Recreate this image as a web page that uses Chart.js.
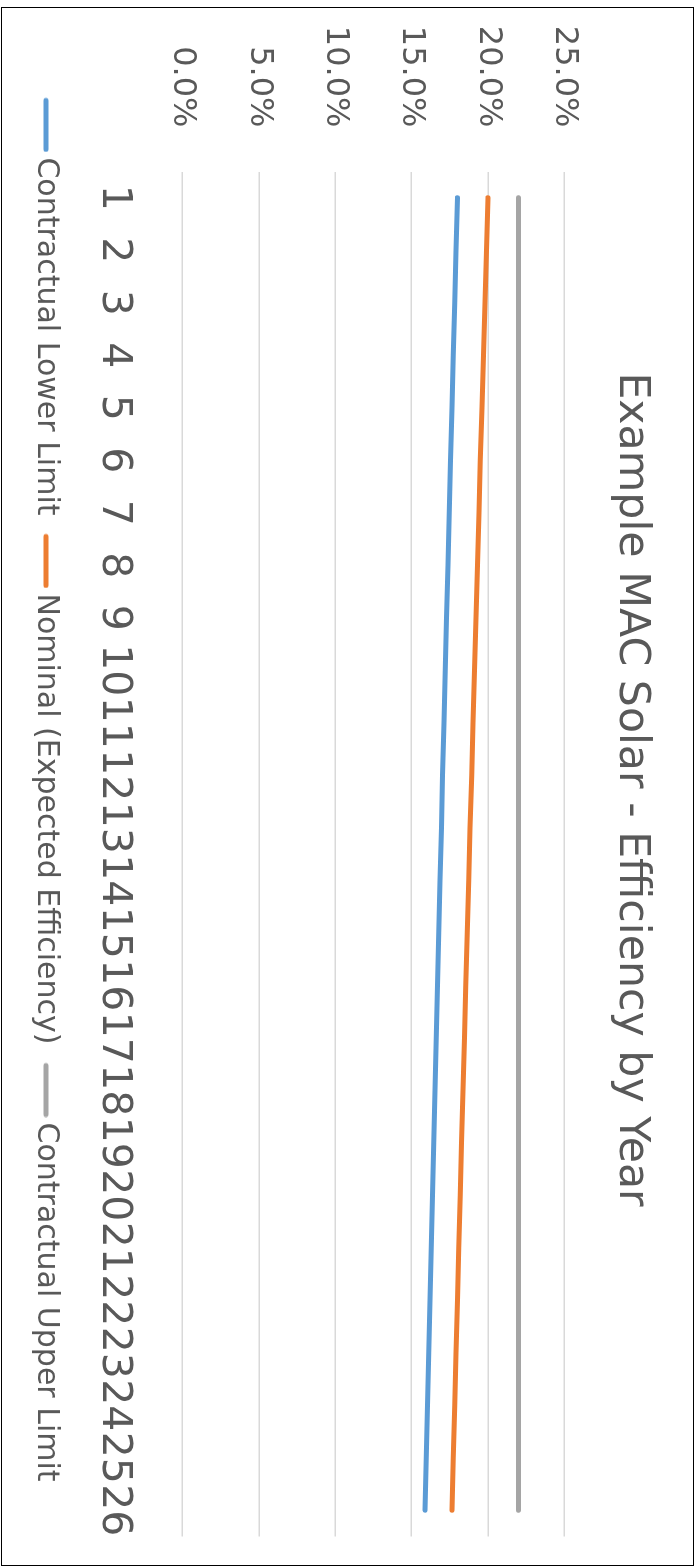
<!DOCTYPE html>
<html>
<head>
<meta charset="utf-8">
<script src="https://cdn.jsdelivr.net/npm/chart.js@4.4.1/dist/chart.umd.min.js"></script>
<style>
  html, body { margin: 0; padding: 0; background: #ffffff; overflow: hidden; }
  #frame {
    position: absolute; left: 0; top: 0;
    width: 1559px; height: 693px;
    box-sizing: border-box;
    border: 1.5px solid #000000;
    background: #ffffff;
    transform-origin: 0 0;
    transform: translate(694px, 7px) rotate(90deg);
  }
  #chart { display: block; }
</style>
</head>
<body>
<div id="frame"><canvas id="chart" width="1556" height="690"></canvas></div>
<script>
const chartTitle = 'Example MAC Solar - Efficiency by Year';
const years = ['1','2','3','4','5','6','7','8','9','10','11','12','13','14','15','16','17','18','19','20','21','22','23','24','25','26'];
const seriesNames = ['Contractual Lower Limit', 'Nominal (Expected Efficiency)', 'Contractual Upper Limit'];
const lowerLimit = [18.00, 17.91, 17.82, 17.73, 17.64, 17.55, 17.47, 17.38, 17.29, 17.21, 17.12, 17.03, 16.95, 16.86, 16.78, 16.70, 16.61, 16.53, 16.45, 16.36, 16.28, 16.20, 16.12, 16.04, 15.96, 15.88];
const nominal = [20.00, 19.90, 19.80, 19.70, 19.60, 19.50, 19.41, 19.31, 19.21, 19.12, 19.02, 18.93, 18.83, 18.74, 18.64, 18.55, 18.46, 18.37, 18.27, 18.18, 18.09, 18.00, 17.91, 17.82, 17.73, 17.64];
const upperLimit = [22.00, 22.00, 22.00, 22.00, 22.00, 22.00, 22.00, 22.00, 22.00, 22.00, 22.00, 22.00, 22.00, 22.00, 22.00, 22.00, 22.00, 22.00, 22.00, 22.00, 22.00, 22.00, 22.00, 22.00, 22.00, 22.00];
const valueTicks = [0, 5, 10, 15, 20, 25];

const colors = ['#5B9BD5', '#ED7D31', '#A5A5A5'];
const textColor = '#595959';
Chart.defaults.font.family = '"DejaVu Sans", sans-serif';
Chart.defaults.color = textColor;

// legend swatch: a short thick line with round caps, sitting close to its text
function legendSwatch(color) {
  const c = document.createElement('canvas');
  c.width = 65; c.height = 8;
  const g = c.getContext('2d');
  g.strokeStyle = color; g.lineWidth = 5; g.lineCap = 'round';
  g.beginPath(); g.moveTo(13, 4); g.lineTo(62, 4); g.stroke();
  return c;
}

const mk = (label, data, color) => ({
  label, data,
  borderColor: color, backgroundColor: color,
  borderWidth: 5, borderCapStyle: 'round', borderJoinStyle: 'round',
  pointRadius: 0, pointHoverRadius: 0, pointStyle: legendSwatch(color),
  tension: 0, fill: false
});

new Chart(document.getElementById('chart'), {
  type: 'line',
  data: {
    labels: years,
    datasets: [
      mk(seriesNames[0], lowerLimit, colors[0]),
      mk(seriesNames[1], nominal, colors[1]),
      mk(seriesNames[2], upperLimit, colors[2])
    ]
  },
  options: {
    responsive: false,
    animation: false,
    devicePixelRatio: 1,
    layout: { padding: { left: 18, right: 11, top: 0, bottom: 18 } },
    plugins: {
      title: {
        display: true, text: chartTitle, color: textColor,
        font: { size: 42.7, weight: 'normal' },
        padding: { top: 36, bottom: 41.4 }
      },
      legend: {
        display: true, position: 'bottom',
        labels: {
          usePointStyle: true, pointStyleWidth: 45,
          boxHeight: 30, font: { size: 30 }, color: textColor, padding: 18
        }
      },
      tooltip: { enabled: false }
    },
    scales: {
      x: {
        offset: true,
        grid: { display: false, drawTicks: false },
        border: { display: false },
        ticks: { autoSkip: false, maxRotation: 0, minRotation: 0, padding: 44, font: { size: 41 }, color: textColor },
        afterFit: (s) => { s.height = 103.5; s.paddingLeft = 0; s.paddingRight = 27.5; }
      },
      y: {
        min: 0, max: 25,
        afterBuildTicks: (scale) => { scale.ticks = valueTicks.map(v => ({ value: v })); },
        grid: { color: '#D9D9D9', lineWidth: 1.5, drawTicks: false },
        border: { display: false },
        ticks: { padding: 44, font: { size: 32 }, color: textColor, callback: (v) => Number(v).toFixed(1) + '%' },
        afterFit: (s) => { s.width = 145.5; }
      }
    }
  }
});
</script>
</body>
</html>
